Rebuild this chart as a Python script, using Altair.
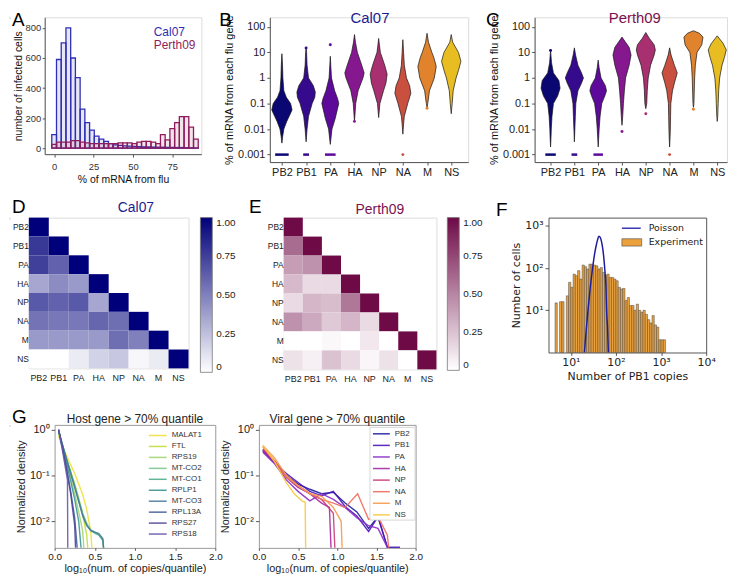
import altair as alt
import pandas as pd

FONT = "Liberation Sans"
MPL_FONT = "DejaVu Sans"

panel_letters = ["A", "B", "C", "D", "E", "F", "G"]
strains = ["Cal07", "Perth09"]
strain_colors = ["#2f2fb5", "#8d1d5d"]
strain_title_colors = ["#1c1c90", "#7a1250"]
genes = ["PB2", "PB1", "PA", "HA", "NP", "NA", "M", "NS"]
violin_colors = ["#0b0772", "#360a8c", "#5d0a9a", "#86188f", "#a93070", "#c9503f", "#e1822c", "#e8bd22"]

# ---------------- A: % of mRNA from flu ----------------
a_bin_centers = [0, 3, 6, 9, 12, 15, 18, 21, 24, 27, 30, 33, 36, 39, 42, 45, 48, 51, 54, 57,
                 60, 63, 66, 69, 72, 75, 78, 81, 84, 87, 90]
a_cal07_cells = [90, 590, 700, 800, 600, 470, 260, 170, 120, 80, 60, 45, 30, 22, 18, 15, 13, 12, 10, 9,
                 8, 7, 6, 6, 5, 5, 4, 4, 3, 2, 1]
a_perth09_cells = [25, 40, 40, 40, 50, 50, 40, 35, 30, 30, 30, 30, 30, 30, 35, 35, 35, 30, 40, 45,
                   45, 40, 30, 90, 55, 130, 170, 210, 210, 140, 60]
a_bin_width = 3
a_x_ticks = [0, 25, 50, 75]
a_y_ticks = [0, 200, 400, 600, 800]

# ---------------- B / C: violins (log10 level, half width) ----------------
b_y_ticks = [0.001, 0.01, 0.1, 1, 10, 100]
zero_floor = 0.001
cal07_levels = {
    "PB2": [-2.55, -2.3, -2.0, -1.7, -1.5, -1.25, -1.0, -0.75, -0.5, 0.0, 0.5, 0.95],
    "PB1": [-2.5, -2.0, -1.5, -1.0, -0.75, -0.55, -0.3, 0.0, 0.5, 1.0, 1.18],
    "PA": [-2.6, -2.0, -1.6, -1.2, -1.0, -0.8, -0.5, 0.0, 0.5, 0.85],
    "HA": [-1.7, -1.3, -1.0, -0.5, 0.0, 0.2, 0.5, 1.0, 1.4, 1.7],
    "NP": [-1.55, -1.0, -0.5, -0.2, 0.15, 0.5, 1.0, 1.3, 1.55],
    "NA": [-2.2, -1.8, -1.5, -1.0, -0.6, -0.3, 0.0, 0.5, 1.0, 1.5],
    "M": [-1.15, -1.0, -0.5, 0.0, 0.45, 0.8, 1.0, 1.4, 1.75],
    "NS": [-1.4, -1.0, -0.5, 0.0, 0.3, 0.65, 1.0, 1.4, 1.7],
}
cal07_halfwidths = {
    "PB2": [0, 0.03, 0.08, 0.2, 0.3, 0.42, 0.36, 0.18, 0.08, 0.04, 0.025, 0],
    "PB1": [0, 0.04, 0.1, 0.25, 0.36, 0.38, 0.3, 0.1, 0.04, 0.02, 0],
    "PA": [0, 0.07, 0.2, 0.3, 0.35, 0.3, 0.18, 0.05, 0.02, 0],
    "HA": [0, 0.03, 0.05, 0.15, 0.35, 0.4, 0.3, 0.12, 0.04, 0],
    "NP": [0, 0.05, 0.2, 0.3, 0.35, 0.25, 0.07, 0.03, 0],
    "NA": [0, 0.03, 0.06, 0.2, 0.33, 0.28, 0.15, 0.06, 0.03, 0],
    "M": [0, 0.03, 0.1, 0.3, 0.38, 0.28, 0.2, 0.06, 0],
    "NS": [0, 0.04, 0.08, 0.2, 0.3, 0.4, 0.3, 0.06, 0],
}
cal07_zero_halfwidth = {"PB2": 0.28, "PB1": 0.12, "PA": 0.22}
cal07_outlier_genes = ["PA", "HA", "NA", "M", "PB1"]
cal07_outlier_values = [20, 0.02, 0.001, 0.065, 15]

perth09_levels = {
    "PB2": [-2.7, -2.3, -2.0, -1.5, -1.0, -0.7, -0.4, -0.1, 0.2, 0.6, 1.08],
    "PB1": [-2.5, -2.0, -1.5, -1.0, -0.5, -0.2, 0.0, 0.2, 0.5, 0.9, 1.18],
    "PA": [-2.7, -2.0, -1.5, -1.0, -0.7, -0.5, -0.3, 0.0, 0.4, 0.7],
    "HA": [-1.85, -1.5, -1.0, -0.5, 0.0, 0.5, 0.9, 1.2, 1.4, 1.6],
    "NP": [-1.2, -1.0, -0.5, 0.0, 0.5, 0.9, 1.1, 1.3, 1.55, 1.78],
    "NA": [-2.7, -2.3, -2.0, -1.5, -1.0, -0.5, -0.2, 0.2, 0.5, 0.9, 1.18],
    "M": [-1.15, -1.0, 0.0, 0.5, 1.0, 1.3, 1.6, 1.75, 1.85],
    "NS": [-1.7, -1.5, -1.0, -0.5, 0.0, 0.5, 0.8, 1.1, 1.35, 1.65],
}
perth09_halfwidths = {
    "PB2": [0, 0.02, 0.03, 0.06, 0.12, 0.3, 0.4, 0.35, 0.12, 0.04, 0],
    "PB1": [0, 0.02, 0.04, 0.06, 0.15, 0.3, 0.38, 0.3, 0.15, 0.05, 0],
    "PA": [0, 0.04, 0.08, 0.15, 0.28, 0.35, 0.3, 0.12, 0.04, 0],
    "HA": [0, 0.03, 0.06, 0.1, 0.15, 0.3, 0.38, 0.3, 0.15, 0],
    "NP": [0, 0.04, 0.06, 0.1, 0.2, 0.35, 0.4, 0.35, 0.15, 0],
    "NA": [0, 0.02, 0.03, 0.04, 0.05, 0.12, 0.2, 0.32, 0.2, 0.06, 0],
    "M": [0, 0.02, 0.05, 0.08, 0.15, 0.35, 0.4, 0.25, 0],
    "NS": [0, 0.02, 0.04, 0.06, 0.1, 0.2, 0.3, 0.38, 0.25, 0],
}
perth09_zero_halfwidth = {"PB2": 0.22, "PB1": 0.12, "PA": 0.2}
perth09_outlier_genes = ["HA", "NP", "M", "NA", "PB2"]
perth09_outlier_values = [0.008, 0.04, 0.06, 0.001, 12]

# ---------------- D / E: correlation heatmaps (lower triangle) ----------------
cal07_corr = [
    [1.0],
    [0.78, 1.0],
    [0.75, 0.62, 1.0],
    [0.35, 0.45, 0.40, 1.0],
    [0.65, 0.62, 0.65, 0.35, 1.0],
    [0.55, 0.53, 0.53, 0.60, 0.57, 1.0],
    [0.40, 0.40, 0.40, 0.40, 0.57, 0.50, 1.0],
    [0.0, 0.0, 0.08, 0.18, 0.22, 0.03, 0.08, 1.0],
]
perth09_corr = [
    [1.0],
    [0.60, 1.0],
    [0.40, 0.45, 1.0],
    [0.28, 0.15, 0.15, 1.0],
    [0.15, 0.30, 0.27, 0.55, 1.0],
    [0.45, 0.35, 0.22, 0.30, 0.15, 1.0],
    [0.0, 0.0, 0.03, 0.0, 0.10, 0.0, 1.0],
    [0.12, 0.06, 0.25, 0.15, 0.04, 0.12, 0.0, 1.0],
]
heat_ranges = [["#ffffff", "#00007a"], ["#ffffff", "#6e0a46"]]
heat_legend_values = [0, 0.25, 0.5, 0.75, 1.0]

# ---------------- F: PB1 copies histogram ----------------
f_bin_edges_log10 = [0.65, 0.70, 0.75, 0.80, 0.85, 0.90, 0.95, 1.00, 1.05, 1.10, 1.15, 1.20, 1.25,
                     1.30, 1.35, 1.40, 1.45, 1.50, 1.55, 1.60, 1.65, 1.70, 1.75, 1.80, 1.85, 1.90,
                     1.95, 2.00, 2.05, 2.10, 2.15, 2.20, 2.25, 2.30, 2.35, 2.40, 2.45, 2.50, 2.55,
                     2.60, 2.65, 2.70, 2.75, 2.80, 2.85, 2.90, 2.95, 3.00, 3.05, 3.10]
f_cells = [15, 0, 16, 16, 0, 22, 46, 35, 72, 66, 87, 55, 118, 108, 95, 124, 124, 118, 113, 95,
           103, 79, 68, 72, 60, 60, 55, 50, 35, 32, 33, 17, 20, 13, 13, 10, 14, 10, 9, 10,
           8, 6, 5, 7.5, 4.5, 4, 2, 2, 2]
f_poisson_copies = [20, 22, 24, 27, 30, 33, 36, 39, 42, 45, 48, 51, 54, 57, 60, 62, 65, 68]
f_poisson_cells = [1, 3.5, 10, 35, 90, 190, 320, 460, 570, 530, 420, 290, 170, 85, 35, 10, 4, 1]
f_legend_labels = ["Poisson", "Experiment"]
f_x_ticks = [10, 100, 1000, 10000]
f_x_tick_labels = ["10¹", "10²", "10³", "10⁴"]
f_y_ticks = [10, 100, 1000]
f_y_tick_labels = ["10¹", "10²", "10³"]

# ---------------- G: normalized densities ----------------
g_titles = ["Host gene > 70% quantile", "Viral gene > 70% quantile"]
g_x_ticks = [0, 0.5, 1.0, 1.5, 2.0]
g_y_ticks = [0.01, 0.1, 1]
g_y_tick_labels = ["10⁻²", "10⁻¹", "10⁰"]
host_genes = ["MALAT1", "FTL", "RPS19", "MT-CO2", "MT-CO1", "RPLP1", "MT-CO3", "RPL13A", "RPS27", "RPS18"]
host_colors = ["#efe03a", "#c2dc3c", "#a2d474", "#7cc690", "#4eae8e", "#3d9393", "#47789a",
               "#3f5a9a", "#4c4696", "#6856a8"]
mt_x = [0.05, 0.1, 0.15, 0.2, 0.25, 0.3, 0.35, 0.4, 0.45, 0.5, 0.55, 0.6, 0.63]
host_x = {
    "MALAT1": [0.05, 0.1, 0.15, 0.2, 0.25, 0.3, 0.35, 0.4, 0.45, 0.48],
    "FTL": [0.05, 0.1, 0.15, 0.2, 0.25, 0.3, 0.35, 0.4, 0.43],
    "RPS19": [0.05, 0.1, 0.15, 0.2, 0.25, 0.3, 0.35, 0.38],
    "MT-CO2": mt_x,
    "MT-CO1": mt_x,
    "RPLP1": [0.05, 0.1, 0.15, 0.2, 0.25, 0.3, 0.35],
    "MT-CO3": mt_x,
    "RPL13A": [0.05, 0.1, 0.15, 0.2, 0.25, 0.3],
    "RPS27": [0.05, 0.1, 0.15, 0.2, 0.25, 0.27],
    "RPS18": [0.05, 0.1, 0.16, 0.165],
}
host_y = {
    "MALAT1": [0.72, 0.42, 0.27, 0.17, 0.11, 0.065, 0.038, 0.018, 0.006, 0.001],
    "FTL": [0.8, 0.42, 0.22, 0.12, 0.065, 0.032, 0.014, 0.005, 0.001],
    "RPS19": [0.85, 0.4, 0.19, 0.09, 0.04, 0.016, 0.006, 0.001],
    "MT-CO2": [0.9, 0.45, 0.23, 0.12, 0.062, 0.03, 0.015, 0.009, 0.0065, 0.0058, 0.0052, 0.004, 0.001],
    "MT-CO1": [0.92, 0.44, 0.22, 0.115, 0.058, 0.028, 0.014, 0.0085, 0.0062, 0.0055, 0.005, 0.0038, 0.001],
    "RPLP1": [0.95, 0.42, 0.18, 0.075, 0.03, 0.01, 0.001],
    "MT-CO3": [0.95, 0.46, 0.22, 0.11, 0.055, 0.027, 0.013, 0.008, 0.0063, 0.0058, 0.0054, 0.0042, 0.001],
    "RPL13A": [1.0, 0.4, 0.14, 0.045, 0.012, 0.001],
    "RPS27": [1.0, 0.38, 0.13, 0.04, 0.008, 0.001],
    "RPS18": [1.0, 0.33, 0.08, 0.001],
}
viral_colors = ["#1d1d9e", "#4b14b8", "#8a2bc6", "#a52aa2", "#c93b78", "#ec6d5e", "#f69a4c", "#f6c93a"]
long_x = [0.05, 0.2, 0.35, 0.5, 0.65, 0.8, 0.95, 1.1, 1.25, 1.4, 1.52, 1.64, 1.8]
viral_x = {
    "PB2": long_x,
    "PB1": long_x,
    "PA": [0.05, 0.2, 0.35, 0.5, 0.65, 0.8, 0.95, 1.1, 1.25, 1.4, 1.52, 1.64],
    "HA": [0.05, 0.2, 0.35, 0.5, 0.65, 0.8, 0.9, 0.93],
    "NP": [0.05, 0.2, 0.35, 0.5, 0.65, 0.8, 0.95, 0.98],
    "NA": [0.05, 0.2, 0.35, 0.5, 0.65, 0.8, 0.95, 1.1, 1.26, 1.4, 1.52, 1.64, 1.68],
    "M": [0.05, 0.2, 0.35, 0.5, 0.65, 0.8, 0.95, 1.05, 1.07],
    "NS": [0.05, 0.2, 0.35, 0.45, 0.55, 0.59, 0.6],
}
viral_y = {
    "PB2": [0.36, 0.2, 0.1, 0.065, 0.05, 0.04, 0.043, 0.025, 0.016, 0.007, 0.0126, 0.0027, 0.0027],
    "PB1": [0.34, 0.19, 0.11, 0.07, 0.045, 0.036, 0.045, 0.021, 0.013, 0.006, 0.0126, 0.0027, 0.0027],
    "PA": [0.32, 0.18, 0.08, 0.045, 0.028, 0.04, 0.03, 0.02, 0.012, 0.008, 0.007, 0.0027],
    "HA": [0.35, 0.2, 0.09, 0.055, 0.04, 0.025, 0.02, 0.001],
    "NP": [0.38, 0.21, 0.1, 0.06, 0.04, 0.03, 0.015, 0.001],
    "NA": [0.42, 0.2, 0.09, 0.06, 0.04, 0.03, 0.025, 0.02, 0.04, 0.011, 0.0126, 0.005, 0.001],
    "M": [0.45, 0.24, 0.1, 0.06, 0.04, 0.035, 0.02, 0.01, 0.001],
    "NS": [0.45, 0.2, 0.07, 0.04, 0.028, 0.026, 0.001],
}


# ---------------- helpers ----------------
def expr_map(values, labels):
    e = "''"
    for v, lab in zip(reversed(values), reversed(labels)):
        e = f"(abs(datum.value / {v} - 1) < 1e-6 ? '{lab}' : {e})"
    return e


gene_expr = "[" + ",".join(repr(g) for g in genes) + "][round(datum.value)]"


def gg_axis(title, values, **kw):
    d = dict(title=title, values=values, grid=False, domainColor="#555", tickColor="#555",
             labelColor="#333", titleColor="#111", labelFont=FONT, titleFont=FONT,
             labelFontSize=10, titleFontSize=10.5, titleFontWeight="normal", tickSize=3,
             labelPadding=2, titlePadding=3, labelFlush=False, labelOverlap=False)
    d.update(kw)
    return alt.Axis(**d)


def mpl_axis(title, values, font, label_size, title_size, **kw):
    d = dict(title=title, values=values, grid=False, domain=False, tickSize=3.5, tickColor="#333",
             tickWidth=0.8, labelColor="#222", titleColor="#222", labelFont=font, titleFont=font,
             labelFontSize=label_size, titleFontSize=title_size, titleFontWeight="normal",
             labelPadding=2, titlePadding=3, labelFlush=False, labelOverlap=False)
    d.update(kw)
    return alt.Axis(**d)


def text_layer(s, dx, dy, size, color, align="center", baseline="middle", font=FONT):
    return alt.Chart(pd.DataFrame({"t": [s]})).mark_text(
        align=align, baseline=baseline, font=font, fontSize=size, color=color
    ).encode(x=alt.value(dx), y=alt.value(dy), text="t:N")


def letter_layer(ch, dx, dy):
    return text_layer(ch, dx, dy, 19, "#000000", align="left", baseline="top")


def spacer():
    return alt.Chart(pd.DataFrame({"k": [0]})).mark_rule(strokeWidth=0, opacity=0).encode(
        x=alt.value(0), x2=alt.value(1), y=alt.value(0)).properties(width=1, height=1)


# ---------------- panel A ----------------
dfA = pd.concat(
    [pd.DataFrame({"center": a_bin_centers, "cells": vals, "strain": s})
     for s, vals in zip(strains, [a_cal07_cells, a_perth09_cells])],
    ignore_index=True,
)
dfA["lo"] = dfA["center"] - a_bin_width / 2
dfA["hi"] = dfA["center"] + a_bin_width / 2
strain_scale = alt.Scale(domain=strains, range=strain_colors)
barsA = alt.Chart(dfA).mark_rect(strokeWidth=1.3, fillOpacity=0.12).encode(
    x=alt.X("lo:Q", scale=alt.Scale(domain=[-6, 93.5], nice=False, zero=False),
            axis=gg_axis("% of mRNA from flu", a_x_ticks, labelFontSize=9.5, labelPadding=4,
                         titlePadding=4)),
    x2="hi:Q",
    y=alt.Y("cells:Q", scale=alt.Scale(domain=[-40, 871], nice=False, zero=False),
            axis=gg_axis("number of infected cells", a_y_ticks, labelFontSize=9.5, tickSize=2.5,
                         labelPadding=1.5, titlePadding=2)),
    y2=alt.datum(0),
    fill=alt.Fill("strain:N", scale=strain_scale, legend=None),
    stroke=alt.Stroke("strain:N", scale=strain_scale, legend=None),
)
panelA = alt.layer(
    barsA,
    text_layer(strains[0], 110, 19, 12, strain_colors[0], align="left", baseline="alphabetic"),
    text_layer(strains[1], 110, 32, 12, strain_colors[1], align="left", baseline="alphabetic"),
    letter_layer(panel_letters[0], -33, -6),
).properties(width=158, height=138)


# ---------------- panels B / C ----------------
def violin_panel(levels, halfw, zero_hw, out_genes, out_vals, title, tcolor, letter, xdom, width, letter_dx):
    rows = []
    for i, g in enumerate(genes):
        for lv, hw in zip(levels[g], halfw[g]):
            rows.append({"gene": g, "lv": lv, "pct": 10 ** lv, "lo": i - hw, "hi": i + hw})
    dfv = pd.DataFrame(rows).sort_values(["gene", "lv"])
    dz = pd.DataFrame([{"gene": g, "pct": zero_floor, "lo": genes.index(g) - w, "hi": genes.index(g) + w}
                       for g, w in zero_hw.items()])
    do = pd.DataFrame({"gene": out_genes, "pct": out_vals, "lo": [genes.index(g) for g in out_genes]})
    X = alt.X("lo:Q", scale=alt.Scale(domain=xdom, nice=False, zero=False),
              axis=gg_axis(None, list(range(len(genes))), labelExpr=gene_expr, labelFontSize=11,
                           labelColor="#222", labelPadding=1.5))
    Y = alt.Y("pct:Q", scale=alt.Scale(type="log", domain=[0.00051, 238], nice=False),
              axis=gg_axis("% of mRNA from each flu gene", b_y_ticks, format="~g", labelFontSize=11,
                           titleFontSize=11, labelColor="#222"))
    C = alt.Color("gene:N", scale=alt.Scale(domain=genes, range=violin_colors), legend=None)
    area = alt.Chart(dfv).mark_area(orient="horizontal", stroke="#151515", strokeWidth=0.7,
                                    strokeJoin="round").encode(y=Y, x=X, x2="hi:Q", color=C)
    zero = alt.Chart(dz).mark_rule(strokeWidth=2.5).encode(y=Y, x=X, x2="hi:Q", color=C)
    outs = alt.Chart(do).mark_circle(size=9, opacity=1).encode(y=Y, x=X, color=C)
    return alt.layer(
        area, zero, outs,
        text_layer(title, 101, 1, 15, tcolor),
        letter_layer(letter, letter_dx, -6),
    ).properties(width=width, height=146)


panelB = violin_panel(cal07_levels, cal07_halfwidths, cal07_zero_halfwidth, cal07_outlier_genes,
                      cal07_outlier_values, strains[0], strain_title_colors[0], panel_letters[1],
                      [-0.5, 7.7], 200, -51)
panelC = violin_panel(perth09_levels, perth09_halfwidths, perth09_zero_halfwidth, perth09_outlier_genes,
                      perth09_outlier_values, strains[1], strain_title_colors[1], panel_letters[2],
                      [-0.67, 7.41], 194, -49)


# ---------------- panels D / E ----------------
def heat_panel(corr, crange, title, tcolor, letter, width, height, letter_dx, letter_dy,
               title_dx, title_dy, leg_offset, leg_len):
    rows = [{"row": genes[r], "col": genes[c], "r": corr[r][c]}
            for r in range(len(corr)) for c in range(len(corr[r]))]
    df = pd.DataFrame(rows)
    rect = alt.Chart(df).mark_rect().encode(
        x=alt.X("col:N", scale=alt.Scale(domain=genes, paddingInner=0, paddingOuter=0),
                axis=alt.Axis(title=None, labelAngle=0, ticks=False, domain=False, labelPadding=5,
                              labelFontSize=9, labelFont=FONT, labelColor="#222")),
        y=alt.Y("row:N", scale=alt.Scale(domain=genes, paddingInner=0, paddingOuter=0),
                axis=alt.Axis(title=None, ticks=False, domain=False, labelPadding=0.5,
                              labelFontSize=8.5, labelFont=FONT, labelColor="#222")),
        color=alt.Color("r:Q", scale=alt.Scale(domain=[0, 1], range=crange, interpolate="rgb"),
                        legend=alt.Legend(title=None, orient="right", direction="vertical",
                                          gradientLength=leg_len, gradientThickness=12,
                                          gradientStrokeColor="#777", gradientStrokeWidth=0.8,
                                          values=heat_legend_values, offset=leg_offset, padding=0,
                                          labelOffset=4, labelFontSize=10, labelFont=FONT,
                                          labelColor="#222",
                                          labelExpr="datum.value == 0 ? '0' : format(datum.value, '.2f')")),
    )
    return alt.layer(
        rect,
        text_layer(title, title_dx, title_dy, 14, tcolor),
        letter_layer(letter, letter_dx, letter_dy),
    ).properties(width=width, height=height)


panelD = heat_panel(cal07_corr, heat_ranges[0], strains[0], strain_title_colors[0], panel_letters[3],
                    161, 152, -17, -20, 108, -10, 12, 156)
panelE = heat_panel(perth09_corr, heat_ranges[1], strains[1], strain_title_colors[1], panel_letters[4],
                    154, 153, -35, -20, 97, -7.5, 11, 154)

# ---------------- panel F ----------------
dfF = pd.DataFrame({
    "lo": [10 ** e for e in f_bin_edges_log10[:-1]],
    "hi": [10 ** e for e in f_bin_edges_log10[1:]],
    "cells": f_cells,
})
dfF = dfF[dfF["cells"] > 0]
dfP = pd.DataFrame({"copies": f_poisson_copies, "cells": f_poisson_cells})
f_xscale = alt.Scale(type="log", domain=[3.2, 10000], nice=False)
f_xaxis = mpl_axis("Number of PB1 copies", f_x_ticks, MPL_FONT, 11, 11, tickSize=3, labelPadding=1.5,
                   labelExpr=expr_map(f_x_ticks, f_x_tick_labels))
fY = alt.Y("cells:Q", scale=alt.Scale(type="log", domain=[1, 1570], nice=False),
           axis=mpl_axis("Number of cells", f_y_ticks, MPL_FONT, 11, 11,
                         labelExpr=expr_map(f_y_ticks, f_y_tick_labels)))
barsF = alt.Chart(dfF).mark_rect(fill="#eba13c", stroke="#4a4a4a", strokeWidth=0.5).encode(
    x=alt.X("lo:Q", scale=f_xscale, axis=f_xaxis), x2="hi:Q", y=fY, y2=alt.datum(1))
lineF = alt.Chart(dfP).mark_line(color="#1e1e9c", strokeWidth=1.5, interpolate="monotone", clip=True).encode(
    x=alt.X("copies:Q", scale=f_xscale, axis=f_xaxis), y=fY)
one = pd.DataFrame({"k": [0]})
legF_line = alt.Chart(one).mark_rule(color="#3a3ab0", strokeWidth=1.5).encode(
    x=alt.value(74), x2=alt.value(93), y=alt.value(10.7))
legF_box = alt.Chart(one).mark_rect(fill="#eba13c", stroke="#4a4a4a", strokeWidth=0.6).encode(
    x=alt.value(74), x2=alt.value(94), y=alt.value(21.3), y2=alt.value(28.7))
panelF = alt.layer(
    barsF, lineF, legF_line, legF_box,
    text_layer(f_legend_labels[0], 101, 10.7, 9.5, "#222", align="left", font=MPL_FONT),
    text_layer(f_legend_labels[1], 101, 25, 9.5, "#222", align="left", font=MPL_FONT),
    letter_layer(panel_letters[5], -53, -17),
).properties(width=159, height=136, view=alt.ViewBackground(stroke="#555", strokeWidth=1))


# ---------------- panels G ----------------
def density_panel(names, colors, xs, ys, title, width, leg_rule_x, leg_text_x, leg_y0, leg_step,
                  box=None, letter=None):
    rows = []
    for g in names:
        for i, (x, y) in enumerate(zip(xs[g], ys[g])):
            rows.append({"gene": g, "i": i, "x": x, "y": y})
    df = pd.DataFrame(rows)
    cs = alt.Scale(domain=names, range=colors)
    lines = alt.Chart(df).mark_line(strokeWidth=1.4, opacity=0.9, clip=True).encode(
        x=alt.X("x:Q", scale=alt.Scale(domain=[0, 2], nice=False),
                axis=mpl_axis("log₁₀(num. of copies/quantile)", g_x_ticks, FONT, 10, 11, format=".1f",
                              tickSize=2.5, labelPadding=1, titlePadding=1)),
        y=alt.Y("y:Q", scale=alt.Scale(type="log", domain=[0.00263, 1.27], nice=False),
                axis=mpl_axis("Normalized density", g_y_ticks, FONT, 11, 11,
                              labelExpr=expr_map(g_y_ticks, g_y_tick_labels))),
        color=alt.Color("gene:N", scale=cs, legend=None),
        order=alt.Order("i:Q"),
    )
    leg = pd.DataFrame({"gene": names})
    ly = alt.Y("gene:N", scale=alt.Scale(type="point", domain=names, padding=0,
                                         range=[leg_y0, leg_y0 + leg_step * (len(names) - 1)]),
               axis=None)
    layers = [lines]
    if box is not None:
        layers.append(alt.Chart(pd.DataFrame({"k": [0]})).mark_rect(
            fill="white", stroke="#cccccc", strokeWidth=0.8).encode(
            x=alt.value(box[0]), x2=alt.value(box[1]), y=alt.value(box[2]), y2=alt.value(box[3])))
    layers.append(alt.Chart(leg).mark_rule(strokeWidth=1.5, opacity=0.9).encode(
        x=alt.value(leg_rule_x[0]), x2=alt.value(leg_rule_x[1]), y=ly,
        color=alt.Color("gene:N", scale=cs, legend=None)))
    layers.append(alt.Chart(leg).mark_text(align="left", baseline="middle", font=FONT, fontSize=8,
                                           color="#333").encode(x=alt.value(leg_text_x), y=ly,
                                                                text="gene:N"))
    layers.append(text_layer(title, width / 2, -6, 12, "#222"))
    if letter is not None:
        layers.append(letter_layer(letter, -43, -17))
    return alt.layer(*layers).resolve_scale(y="independent").properties(
        width=width, height=124, view=alt.ViewBackground(stroke="#999", strokeWidth=1))


panelG1 = density_panel(host_genes, host_colors, host_x, host_y, g_titles[0], 162, (95, 113), 118,
                        10.7, 11.04, letter=panel_letters[6])
panelG2 = density_panel(genes, viral_colors, viral_x, viral_y, g_titles[1], 158, (115, 132), 137,
                        9, 11.67, box=(112, 157.5, 2.5, 96))


def indep(c):
    return c.resolve_scale(color="independent", fill="independent", stroke="independent",
                           x="independent", y="independent").resolve_legend(color="independent")


row1 = indep(alt.hconcat(spacer(), indep(alt.hconcat(panelA, panelB, panelC, spacing=16)), spacing=0))
row2 = indep(alt.hconcat(spacer(), indep(alt.hconcat(panelD, panelE, panelF, spacing=11)), spacing=0))
row3 = indep(alt.hconcat(spacer(), indep(alt.hconcat(panelG1, panelG2, spacing=44, bounds="flush")),
                         spacing=0))
top = indep(alt.vconcat(row1, row2, spacing=11))
chart = indep(alt.vconcat(top, row3, spacing=23)).properties(
    padding={"left": 0, "top": 0, "right": 0, "bottom": 0}
).configure_view(strokeWidth=0).configure(font=FONT)

chart.save("out.html", embed_options={"renderer": "svg", "actions": False})
